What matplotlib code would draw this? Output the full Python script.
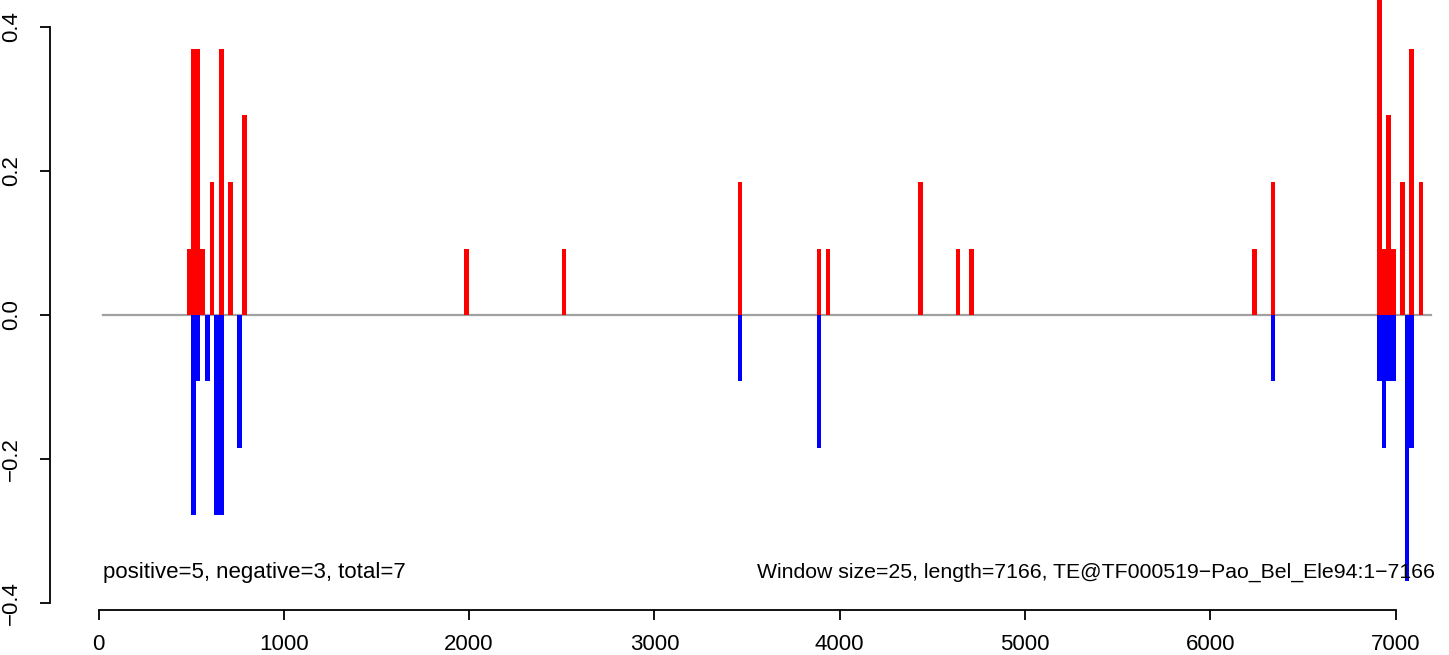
"""Strand-specific window counts along a TE consensus (R-style barplot)."""

import matplotlib

matplotlib.use("Agg")
import matplotlib.pyplot as plt

# window start positions and heights (positive strand, red)
pos_starts = [475, 500, 525, 550, 600, 650, 700, 775, 1975, 2500, 3450, 3875,
              3925, 4425, 4625, 4700, 6225, 6325, 6900, 6925, 6950, 6975,
              7025, 7075, 7125]
pos_vals = [0.092, 0.369, 0.369, 0.092, 0.185, 0.369, 0.185, 0.277, 0.092,
            0.092, 0.185, 0.092, 0.092, 0.185, 0.092, 0.092, 0.092, 0.185,
            0.462, 0.092, 0.277, 0.092, 0.185, 0.369, 0.185]

# negative strand, blue
neg_starts = [500, 525, 575, 625, 650, 750, 3450, 3875, 6325, 6900, 6925,
              6950, 6975, 7050, 7075]
neg_vals = [-0.277, -0.092, -0.092, -0.277, -0.277, -0.185, -0.092, -0.185,
            -0.092, -0.092, -0.185, -0.092, -0.092, -0.369, -0.185]

window = 25
baseline_span = [25, 7190]
x_ticks = [0, 1000, 2000, 3000, 4000, 5000, 6000, 7000]
y_ticks = [0.4, 0.2, 0.0, -0.2, -0.4]
left_note = "positive=5, negative=3, total=7"
right_note = "Window size=25, length=7166, TE@TF000519\u2212Pao_Bel_Ele94:1\u22127166"

plt.rcParams["font.family"] = ["Liberation Sans", "DejaVu Sans"]
plt.rcParams["font.size"] = 16

W, H = 1449, 655
fig = plt.figure(figsize=(W / 100, H / 100), dpi=100)
# plot region in pixels: left edge 50, bottom edge 610, top 0, right edge W
ax = fig.add_axes([50 / W, (H - 610) / H, (W - 50) / W, 610 / H])
ax.set_xlim(-(98.5 - 50) / 0.1853, (W - 98.5) / 0.1853)
ax.set_ylim(-(610 - 315) / 721, 315 / 721)

ax.bar(pos_starts, pos_vals, width=window, align="edge", color="#FF0000",
       linewidth=0, antialiased=False, zorder=2)
ax.bar(neg_starts, neg_vals, width=window, align="edge", color="#0000FF",
       linewidth=0, antialiased=False, zorder=2)
ax.plot(baseline_span, [0, 0], color="#A0A0A0", lw=1.6, zorder=1)

ax.text(22, -0.357, left_note, ha="left", va="center")
ax.text(7211, -0.357, right_note, ha="right", va="center", fontsize=15.3)

for side in ["top", "right"]:
    ax.spines[side].set_visible(False)
ax.spines["left"].set_bounds(-0.4, 0.4)
ax.spines["bottom"].set_bounds(0, 7000)
for side in ["left", "bottom"]:
    ax.spines[side].set_linewidth(1.3)

ax.set_xticks(x_ticks)
ax.set_xticklabels([str(t) for t in x_ticks])
ax.set_yticks(y_ticks)
ax.set_yticklabels([f"{t:.1f}".replace("-", "\u2212") for t in y_ticks],
                   rotation=90, va="center")
ax.tick_params(axis="both", length=7, width=1.3, direction="out")
ax.tick_params(axis="x", pad=10)
ax.tick_params(axis="y", pad=13)

fig.savefig("out.png", dpi=100)
plt.close(fig)
